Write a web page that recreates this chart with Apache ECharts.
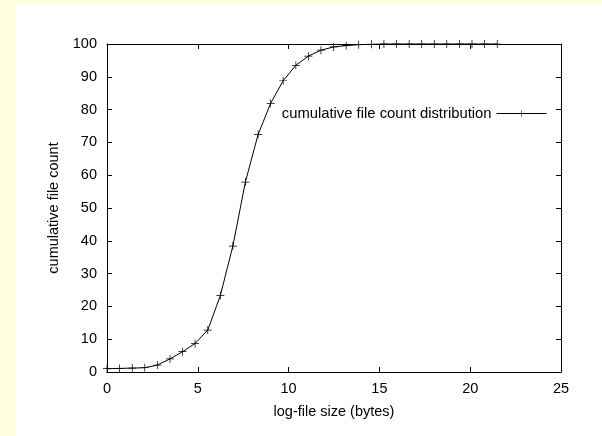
<!DOCTYPE html>
<html>
<head>
<meta charset="utf-8">
<script src="https://cdn.jsdelivr.net/npm/echarts@6/dist/echarts.min.js"></script>
<style>
html,body{margin:0;padding:0;background:#ffffe0;}
#chart{width:602px;height:436px;}
</style>
</head>
<body>
<div id="chart"></div>
<script>
// log-file size (bytes) positions
var logSizes = [0, 0.69, 1.39, 2.08, 2.77, 3.47, 4.16, 4.85, 5.55, 6.24, 6.93, 7.62, 8.32, 9.01, 9.70, 10.40,
  11.09, 11.78, 12.48, 13.17, 13.86, 14.56, 15.25, 15.94, 16.64, 17.33, 18.02, 18.71, 19.41, 20.10, 20.79, 21.49];
// cumulative file count (%)
var cumulativeCount = [1.0, 1.1, 1.2, 1.3, 2.1, 4.0, 6.2, 8.7, 12.8, 23.3, 38.4, 57.9, 72.4, 81.9, 88.8, 93.5,
  96.3, 98.1, 99.1, 99.5, 99.8, 99.9, 100, 100, 100, 100, 100, 100, 100, 100, 100, 100];
var seriesName = 'cumulative file count distribution';
var xTitle = 'log-file size (bytes)';
var yTitle = 'cumulative file count';

var points = logSizes.map(function (x, i) { return [x, cumulativeCount[i]]; });
var font = '"Liberation Sans", Arial, Helvetica, sans-serif';
var fs = 14.5;
var plus = 'path://M-0.09,-1H0.09V1H-0.09ZM-1,-0.09H1V0.09H-1Z';
var tick = {show: true, inside: true, length: 5, lineStyle: {color: '#000', width: 1}};
var line = {show: true, onZero: false, lineStyle: {color: '#000', width: 1}};

var chart = echarts.init(document.getElementById('chart'), null, {renderer: 'canvas'});
chart.setOption({
  backgroundColor: '#ffffe0',
  animation: false,
  graphic: [{
    type: 'rect', z: -10, silent: true,
    shape: {x: 16, y: 5, width: 602 - 16, height: 436 - 5},
    style: {fill: '#ffffff'}
  }],
  grid: {left: 107, top: 44, right: 41, bottom: 64, containLabel: false},
  legend: {
    right: 50, top: 101, align: 'right',
    itemWidth: 50, itemHeight: 8, itemGap: 5,
    lineStyle: {width: 1, color: '#000'},
    textStyle: {fontFamily: font, fontSize: 14.8, color: '#000'},
    data: [seriesName]
  },
  xAxis: [{
    type: 'value', min: 0, max: 25, interval: 5, position: 'bottom',
    name: xTitle, nameLocation: 'middle', nameGap: 32,
    nameTextStyle: {fontFamily: font, fontSize: fs, color: '#000'},
    axisLine: line, axisTick: tick,
    axisLabel: {fontFamily: font, fontSize: fs, color: '#000', margin: 9},
    splitLine: {show: false}
  }, {
    type: 'value', min: 0, max: 25, interval: 5, position: 'top',
    axisLine: line, axisTick: tick,
    axisLabel: {show: false}, splitLine: {show: false}
  }],
  yAxis: [{
    type: 'value', min: 0, max: 100, interval: 10, position: 'left',
    name: yTitle, nameLocation: 'middle', nameGap: 43, nameRotate: 90,
    nameTextStyle: {fontFamily: font, fontSize: fs, color: '#000'},
    axisLine: line, axisTick: tick,
    axisLabel: {fontFamily: font, fontSize: fs, color: '#000', margin: 10},
    splitLine: {show: false}
  }, {
    type: 'value', min: 0, max: 100, interval: 10, position: 'right',
    axisLine: line, axisTick: tick,
    axisLabel: {show: false}, splitLine: {show: false}
  }],
  series: [{
    name: seriesName, type: 'line', xAxisIndex: 0, yAxisIndex: 0,
    data: points,
    symbol: plus, symbolSize: 8, showAllSymbol: true,
    lineStyle: {color: '#000', width: 1},
    itemStyle: {color: '#000'},
    smooth: false, clip: false
  }]
});
</script>
</body>
</html>
